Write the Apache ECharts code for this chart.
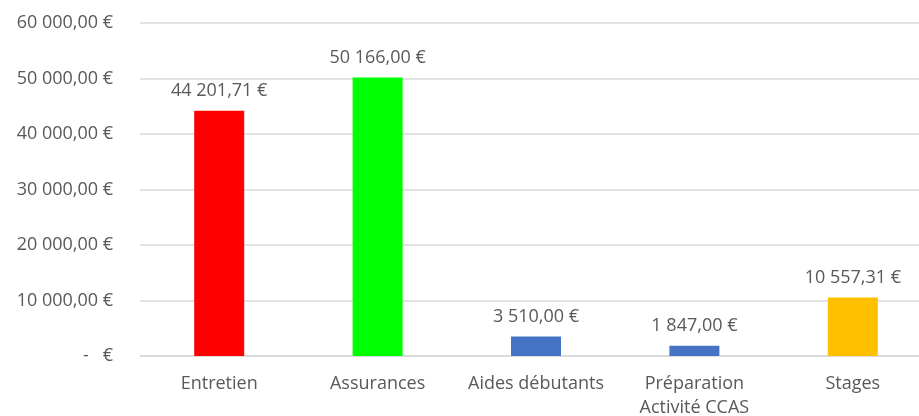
<!DOCTYPE html>
<html>
<head>
<meta charset="utf-8">
<script src="https://cdn.jsdelivr.net/npm/echarts@6/dist/echarts.min.js"></script>
<style>
  html, body { margin: 0; padding: 0; background: #ffffff; }
  #chart { width: 919px; height: 416px; }
</style>
</head>
<body>
<div id="chart"></div>
<script>
const categories = ['Entretien', 'Assurances', 'Aides débutants', 'Préparation\nActivité CCAS', 'Stages'];
const amounts = [44201.71, 50166.0, 3510.0, 1847.0, 10557.31];
const barColors = ['#ff0000', '#00ff00', '#4472c4', '#4472c4', '#ffc000'];
const yTicks = [0, 10000, 20000, 30000, 40000, 50000, 60000];

const INK = { text: '#595959', grid: '#d9d9d9' };
const FONT = '"Open Sans", "Liberation Sans", sans-serif';

// Excel accounting style: 44 201,71 €, zero shown as "-   €"
function euro(v) {
  if (!v) return '-   €';
  const [int, dec] = v.toFixed(2).split('.');
  return int.replace(/\B(?=(\d{3})+(?!\d))/g, ' ') + ',' + dec + ' €';
}

const chart = echarts.init(document.getElementById('chart'), null, { renderer: 'canvas' });
chart.setOption({
  animation: false,
  textStyle: { fontFamily: FONT, color: INK.text },
  grid: { left: 140, width: 792, top: 23, bottom: 60, containLabel: false, outerBoundsMode: 'none' },
  xAxis: {
    type: 'category',
    data: categories,
    axisLine: { show: true, lineStyle: { color: INK.grid, width: 1.5 } },
    axisTick: { show: false },
    axisLabel: { color: INK.text, fontSize: 18, fontFamily: FONT, margin: 16, lineHeight: 24, interval: 0 },
  },
  yAxis: {
    type: 'value',
    min: yTicks[0],
    max: yTicks[yTicks.length - 1],
    interval: 10000,
    axisLine: { show: false },
    axisTick: { show: false },
    axisLabel: { color: INK.text, fontSize: 18, fontFamily: FONT, margin: 27, formatter: euro },
    splitLine: { lineStyle: { color: INK.grid, width: 1.5 } },
  },
  series: [{
    type: 'bar',
    data: amounts.map((v, i) => ({ value: v, itemStyle: { color: barColors[i] } })),
    barWidth: 50,
    label: {
      show: true,
      position: 'top',
      distance: 11,
      fontSize: 18,
      fontFamily: FONT,
      color: INK.text,
      formatter: (p) => euro(p.value),
    },
  }],
});
</script>
</body>
</html>
